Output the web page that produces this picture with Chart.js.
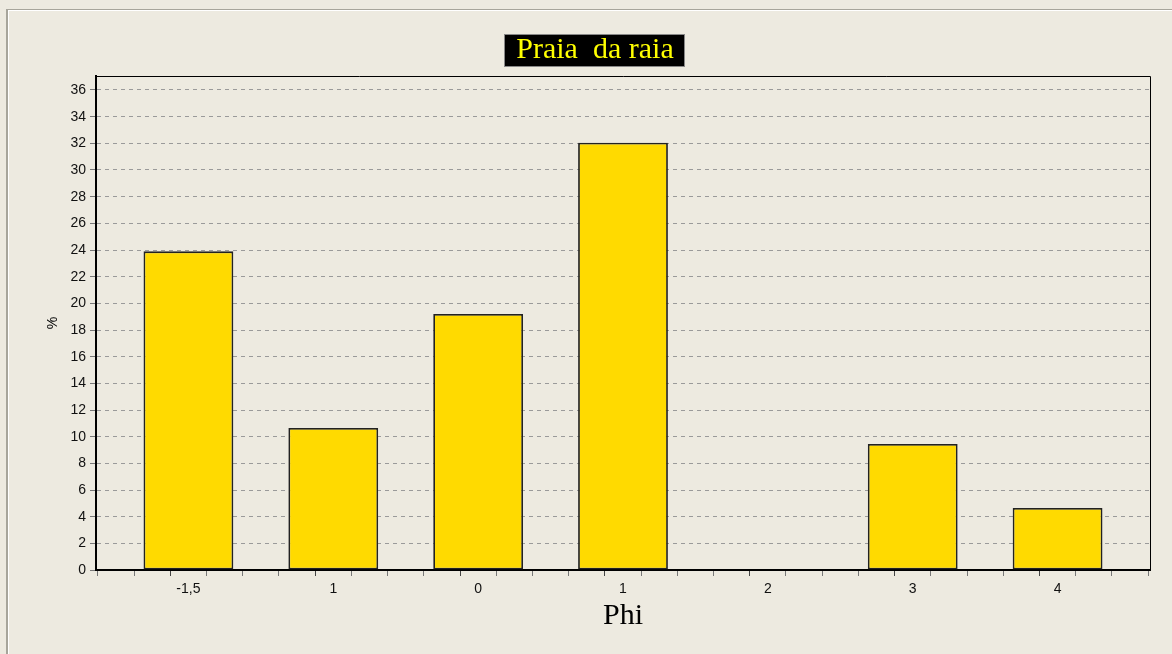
<!DOCTYPE html>
<html>
<head>
<meta charset="utf-8">
<script src="https://cdn.jsdelivr.net/npm/chart.js@4"></script>
<style>
  html, body { margin: 0; padding: 0; background: #EDEAE0; }
  #frame { position: absolute; left: 6px; top: 9px; width: 1166px; height: 645px;
           border-top: 1px solid #A7A59B; border-left: 2px solid #A7A59B; box-shadow: inset 1px 1px 0 #FFFFFF; }
  #wrap { position: absolute; left: 0; top: 0; width: 1172px; height: 654px; }
</style>
</head>
<body>
<div id="frame"></div>
<div id="wrap"><canvas id="c" width="1172" height="654"></canvas></div>
<script>
const titleText = 'Praia  da raia';
const xTitle = 'Phi';
const yTitle = '%';
const categories = ['-1,5', '1', '0', '1', '2', '3', '4'];
const percentValues = [23.9, 10.65, 19.2, 32.05, 0, 9.45, 4.65];

const titleBoxPlugin = {
  id: 'titleBox',
  beforeDraw(chart) {
    const tb = chart.titleBlock;
    if (!tb) return;
    const ctx = chart.ctx;
    const f = Chart.helpers.toFont(tb.options.font);
    ctx.save();
    ctx.font = f.string;
    const w = ctx.measureText(tb.options.text).width;
    const cx = (tb.left + tb.right) / 2;
    const cy = tb.top + tb._padding.top + f.lineHeight / 2;
    const bx = Math.round(cx - w / 2 - 12), by = Math.round(cy - 16.5), bw = Math.round(w + 24);
    ctx.fillStyle = '#000000';
    ctx.fillRect(bx, by, bw, 33);
    ctx.strokeStyle = '#888';
    ctx.lineWidth = 1;
    ctx.strokeRect(bx + 0.5, by + 0.5, bw - 1, 32);
    ctx.restore();
  },
  afterDraw(chart) {
    const a = chart.chartArea;
    const ctx = chart.ctx;
    ctx.save();
    ctx.strokeStyle = '#000';
    ctx.lineWidth = 1;
    ctx.beginPath();
    ctx.moveTo(a.left, a.top + 0.5);
    ctx.lineTo(a.right + 0.5, a.top + 0.5);
    ctx.lineTo(a.right + 0.5, a.bottom);
    ctx.stroke();
    ctx.restore();
  }
};

new Chart(document.getElementById('c'), {
  type: 'bar',
  data: {
    datasets: [{
      data: percentValues.map((v, i) => ({ x: i, y: v })),
      backgroundColor: '#FFDA00',
      borderColor: '#222222',
      borderWidth: 1.8,
      borderSkipped: false,
      barPercentage: 2.48,
      categoryPercentage: 1
    }]
  },
  options: {
    responsive: false,
    animation: false,
    layout: { padding: { left: 40, right: 22, top: 9, bottom: 2 } },
    plugins: {
      legend: { display: false },
      tooltip: { enabled: false },
      title: {
        display: true,
        text: titleText,
        color: '#FFFF00',
        font: { family: '"Liberation Serif", "Times New Roman", serif', size: 30, weight: 'normal', lineHeight: 1.1 },
        padding: { top: 25, bottom: 9 }
      }
    },
    scales: {
      x: {
        type: 'linear',
        offset: false,
        min: -0.638,
        max: 6.638,
        afterFit(s) { s.height = 82; },
        ticks: {
          stepSize: 0.25,
          includeBounds: false,
          autoSkip: false,
          maxRotation: 0,
          padding: 5,
          color: '#111',
          font: { family: '"Liberation Sans", Arial, sans-serif', size: 14 },
          callback: (v) => Number.isInteger(v) && categories[v] !== undefined ? categories[v] : ''
        },
        grid: {
          drawOnChartArea: false,
          drawTicks: true,
          tickLength: 6,
          tickColor: (ctx) => (ctx.tick && Number.isInteger(ctx.tick.value)) ? '#444' : '#777',
          tickWidth: 1
        },
        border: { display: true, color: '#000', width: 2 },
        title: {
          display: true,
          text: xTitle,
          color: '#000',
          font: { family: '"Liberation Serif", "Times New Roman", serif', size: 30, lineHeight: 1.2 },
          padding: { top: 0, bottom: 18 }
        }
      },
      y: {
        min: 0,
        max: 37.05,
        afterFit(s) { s.width = 56; },
        ticks: {
          stepSize: 2,
          includeBounds: false,
          padding: 4,
          color: '#111',
          font: { family: '"Liberation Sans", Arial, sans-serif', size: 14 }
        },
        grid: {
          color: (ctx) => ctx.tick && ctx.tick.value === 0 ? 'rgba(0,0,0,0)' : '#9A9A9A',
          lineWidth: 1,
          drawTicks: true,
          tickLength: 6,
          tickColor: '#777'
        },
        border: { display: true, color: '#000', width: 2, dash: [4, 4] },
        title: {
          display: true,
          text: yTitle,
          color: '#000',
          font: { family: '"Liberation Sans", Arial, sans-serif', size: 14, lineHeight: 1.2 },
          padding: { top: 5, bottom: 0 }
        }
      }
    }
  },
  plugins: [titleBoxPlugin]
});
</script>
</body>
</html>
